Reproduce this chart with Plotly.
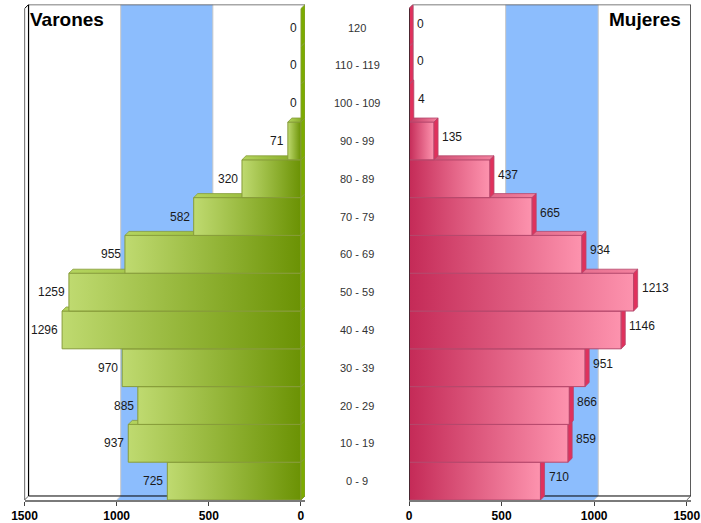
import plotly.graph_objects as go

# ---------------- data ----------------
grupos = ["0 - 9", "10 - 19", "20 - 29", "30 - 39", "40 - 49", "50 - 59", "60 - 69",
          "70 - 79", "80 - 89", "90 - 99", "100 - 109", "110 - 119", "120"]
varones = [725, 937, 885, 970, 1296, 1259, 955, 582, 320, 71, 0, 0, 0]
mujeres = [710, 859, 866, 951, 1146, 1213, 934, 665, 437, 135, 4, 0, 0]
tick_vals = [0, 500, 1000, 1500]
tick_text = ["0", "500", "1000", "1500"]
banda = [500, 1000]
x_max = 1500

# ---------------- style ----------------
W, H = 701, 523
DX = 22        # depth offset (data units along x)
DY = 0.106     # depth offset (category units along y)
FONT = "Liberation Sans"

# gradient colorscales run left -> right on screen
male = dict(front=[[0, "#bfda70"], [1, "#6b9204"]],
            top=[[0, "#b4d45e"], [1, "#7ea41a"]],
            side="#7cab00", edge="#879c3a", o=-DX, xa="x", ya="y")
female = dict(front=[[0, "#c42a57"], [1, "#fd93ae"]],
              top=[[0, "#c23a62"], [1, "#f3829f"]],
              side="#e0315c", edge="#b5486c", o=DX, xa="x2", ya="y2")

n = len(grupos)
ytop = n - 0.5
ybot = -0.5

fig = go.Figure()
shapes = []


def path(pts):
    return "M " + " L ".join(f"{x},{y}" for x, y in pts) + " Z"


def line(xa, ya, x0, y0, x1, y1, color, width=1, layer="below"):
    shapes.append(dict(type="line", xref=xa, yref=ya, x0=x0, y0=y0, x1=x1, y1=y1,
                       line=dict(color=color, width=width), layer=layer))


def frame(st, is_male):
    o, xa, ya = st["o"], st["xa"], st["ya"]
    shapes.append(dict(type="path", xref=xa, yref=ya, layer="below",
                       path=path([(0 + o, ybot + DY), (x_max + o, ybot + DY),
                                  (x_max + o, ytop + DY), (0 + o, ytop + DY)]),
                       fillcolor="white", line=dict(width=0)))
    b0, b1 = banda
    shapes.append(dict(type="path", xref=xa, yref=ya, layer="below",
                       path=path([(b0 + o, ytop + DY), (b1 + o, ytop + DY),
                                  (b1 + o, ybot + DY), (b1, ybot), (b0, ybot),
                                  (b0 + o, ybot + DY)]),
                       fillcolor="#8cbdfd", line=dict(width=0)))
    for b in banda:
        line(xa, ya, b + o, ybot + DY, b + o, ytop + DY, "#c8c8c8")
        line(xa, ya, b, ybot, b + o, ybot + DY, "#c8c8c8")
    line(xa, ya, 0 + o, ytop + DY, x_max + o, ytop + DY, "#505050", 1.5)
    line(xa, ya, 0 + o, ybot + DY, x_max + o, ybot + DY, "#000000", 1)
    line(xa, ya, 0, ybot, 0 + o, ybot + DY, "#606060", 1)
    line(xa, ya, x_max, ybot, x_max + o, ybot + DY, "#606060", 1)
    if is_male:
        line(xa, ya, x_max, ybot, x_max, ytop, "#000000", 1.2)
        line(xa, ya, x_max + o, ybot + DY, x_max + o, ytop + DY, "#000000", 1.2)
        line(xa, ya, x_max, ytop, x_max + o, ytop + DY, "#000000", 1)
    else:
        line(xa, ya, x_max + o, ybot + DY, x_max + o, ytop + DY, "#303030", 1.2)
        line(xa, ya, 0, ytop, 0 + o, ytop + DY, "#303030", 1)
        line(xa, ya, 0 + o, ybot + DY, 0 + o, ytop + DY, "#b0b0b0", 1)


frame(male, True)
frame(female, False)


def bars(vals, st, is_male):
    o, xa, ya = st["o"], st["xa"], st["ya"]
    for i, v in enumerate(vals):
        y0, y1 = i - 0.5, i + 0.5
        if v > 0:
            fig.add_trace(go.Scatter(
                x=[0, v, v, 0, 0], y=[y0, y0, y1, y1, y0], xaxis=xa, yaxis=ya,
                mode="lines", fill="toself",
                fillgradient=dict(type="horizontal", colorscale=st["front"]),
                line=dict(color=st["edge"], width=1), hoverinfo="skip", showlegend=False))
            fig.add_trace(go.Scatter(
                x=[0, v, v + o, 0 + o, 0], y=[y1, y1, y1 + DY, y1 + DY, y1],
                xaxis=xa, yaxis=ya, mode="lines", fill="toself",
                fillgradient=dict(type="horizontal", colorscale=st["top"]),
                line=dict(color=st["edge"], width=0.8), hoverinfo="skip", showlegend=False))
        sx = 0 if is_male else v
        fig.add_trace(go.Scatter(
            x=[sx, sx, sx + o, sx + o, sx], y=[y0, y1, y1 + DY, y0 + DY, y0],
            xaxis=xa, yaxis=ya, mode="lines", fill="toself", fillcolor=st["side"],
            line=dict(color=st["edge"], width=0.8), hoverinfo="skip", showlegend=False))


bars(varones, male, True)
bars(mujeres, female, False)

line("x2", "y2", 0, ybot, 0, ytop, "#202020", 1.5, layer="above")

annotations = []
lab_font = dict(family=FONT, size=12, color="#1a1a1a")
for i, v in enumerate(varones):
    annotations.append(dict(x=v, y=i, xref="x", yref="y", text=str(v), showarrow=False,
                            xanchor="right", yanchor="middle", xshift=-2, font=lab_font))
for i, v in enumerate(mujeres):
    annotations.append(dict(x=v + DX, y=i, xref="x2", yref="y2", text=str(v), showarrow=False,
                            xanchor="left", yanchor="middle", xshift=2, yshift=4, font=lab_font))
for i, g in enumerate(grupos):
    annotations.append(dict(x=357 / W, y=i, xref="paper", yref="y", text=g, showarrow=False,
                            xanchor="center", yanchor="middle",
                            font=dict(family=FONT, size=11, color="#333333")))
annotations.append(dict(x=28 / W, y=1 - 19 / H, xref="paper", yref="paper", text="<b>Varones</b>",
                        showarrow=False, xanchor="left", yanchor="middle",
                        font=dict(family=FONT, size=19, color="black")))
annotations.append(dict(x=683 / W, y=1 - 20 / H, xref="paper", yref="paper", text="<b>Mujeres</b>",
                        showarrow=False, xanchor="right", yanchor="middle",
                        font=dict(family=FONT, size=19, color="black")))

xcommon = dict(tickvals=tick_vals, ticktext=tick_text, showgrid=False, zeroline=False,
               showline=True, linecolor="#7a7a7a", linewidth=2, ticks="outside",
               ticklen=4, tickcolor="#404040", automargin=False,
               tickfont=dict(family=FONT, size=12, color="black", weight="bold"),
               fixedrange=True)
ycommon = dict(range=[ybot, ytop + DY], domain=[23 / H, 518.4 / H], showgrid=False,
               zeroline=False, showticklabels=False, showline=False, ticks="",
               automargin=False, fixedrange=True)

fig.update_layout(
    width=W, height=H, margin=dict(l=0, r=0, t=0, b=0, autoexpand=False),
    paper_bgcolor="white", plot_bgcolor="rgba(0,0,0,0)",
    xaxis=dict(domain=[24.5 / W, 305 / W], range=[x_max, -DX], anchor="y", **xcommon),
    xaxis2=dict(domain=[409 / W, 691 / W], range=[0, 1523], anchor="y2", **xcommon),
    yaxis=dict(anchor="x", **ycommon),
    yaxis2=dict(anchor="x2", **ycommon),
    shapes=shapes, annotations=annotations, showlegend=False,
)

fig.write_html("out.html", config={"displayModeBar": False},
               post_script="document.body.style.margin='0';document.body.style.overflow='hidden';")
